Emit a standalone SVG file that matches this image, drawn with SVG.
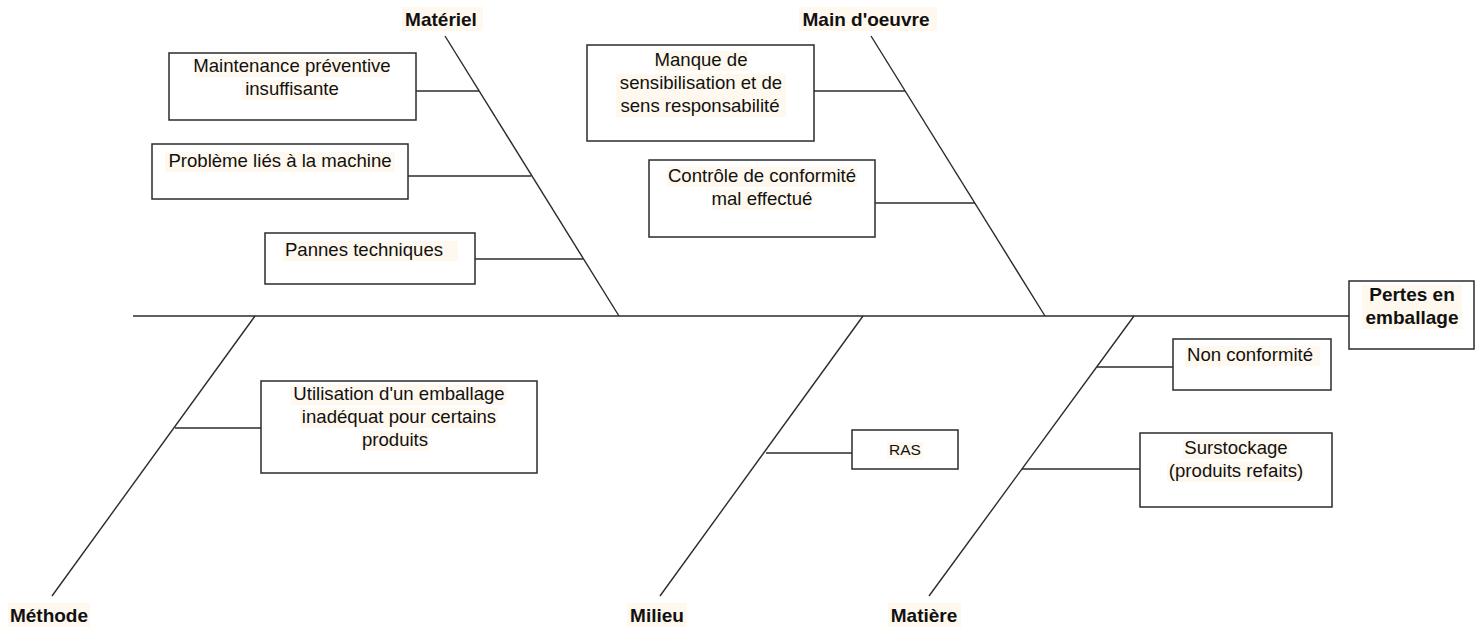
<svg xmlns="http://www.w3.org/2000/svg" width="1482" height="628" viewBox="0 0 1482 628">
  <style>
    .bg { fill: #ffffff; }
    .box { fill: #ffffff; stroke: #2b2b2b; stroke-width: 1.5; }
    .hl { fill: #fef8ee; }
    .bone { stroke: #2b2b2b; stroke-width: 1.4; fill: none; }
    .t { font-family: "Liberation Sans", Arial, sans-serif; font-size: 18.6px; fill: #111111; text-anchor: middle; }
    .cat { font-family: "Liberation Sans", Arial, sans-serif; font-size: 19px; font-weight: bold; fill: #111111; text-anchor: middle; }
    .small { font-size: 15.5px; }
  </style>
  <rect class="bg" x="0" y="0" width="1482" height="628"/>

  <!-- spine, main bones and cause branches -->
  <g id="connectors">
    <line class="bone" x1="133" y1="316" x2="1349" y2="316"/>
    <!-- upper bones -->
    <line class="bone" x1="445" y1="36" x2="619" y2="316"/>
    <line class="bone" x1="871" y1="36" x2="1045" y2="316"/>
    <!-- lower bones -->
    <line class="bone" x1="255" y1="316" x2="52" y2="596"/>
    <line class="bone" x1="863" y1="316" x2="660" y2="596"/>
    <line class="bone" x1="1134" y1="316" x2="929" y2="596"/>
    <!-- Matériel branches -->
    <line class="bone" x1="413" y1="91" x2="479" y2="91"/>
    <line class="bone" x1="408" y1="176" x2="531" y2="176"/>
    <line class="bone" x1="475" y1="259" x2="583" y2="259"/>
    <!-- Main d'oeuvre branches -->
    <line class="bone" x1="811" y1="91" x2="905" y2="91"/>
    <line class="bone" x1="867" y1="203" x2="975" y2="203"/>
    <!-- Méthode branch -->
    <line class="bone" x1="175" y1="428" x2="261" y2="428"/>
    <!-- Milieu branch -->
    <line class="bone" x1="766" y1="453" x2="852" y2="453"/>
    <!-- Matière branches -->
    <line class="bone" x1="1097" y1="367" x2="1173" y2="367"/>
    <line class="bone" x1="1022" y1="469" x2="1140" y2="469"/>
  </g>

  <!-- category labels -->
  <g id="cat-materiel">
    <rect class="hl" x="402" y="7" width="81" height="24"/>
    <text class="cat" x="441" y="26">Matériel</text>
  </g>
  <g id="cat-main-oeuvre">
    <rect class="hl" x="799" y="7" width="138" height="24"/>
    <text class="cat" x="866" y="26">Main d'oeuvre</text>
  </g>
  <g id="cat-methode">
    <rect class="hl" x="8" y="603" width="82" height="24"/>
    <text class="cat" x="49" y="622">Méthode</text>
  </g>
  <g id="cat-milieu">
    <rect class="hl" x="627" y="603" width="60" height="24"/>
    <text class="cat" x="657" y="622">Milieu</text>
  </g>
  <g id="cat-matiere">
    <rect class="hl" x="888" y="603" width="73" height="24"/>
    <text class="cat" x="924" y="622">Matière</text>
  </g>

  <!-- effect -->
  <g id="effect">
    <rect class="box" x="1349" y="281" width="125" height="68"/>
    <rect class="hl" x="1362" y="285" width="100" height="44"/>
    <text class="cat" x="1412" y="301">Pertes en</text>
    <text class="cat" x="1412" y="324">emballage</text>
  </g>

  <!-- Matériel causes -->
  <g id="cause-maintenance">
    <rect class="box" x="169" y="53" width="247" height="67"/>
    <rect class="hl" x="195" y="57" width="194" height="20"/>
    <rect class="hl" x="242" y="80" width="93" height="20"/>
    <text class="t" x="292" y="72">Maintenance préventive</text>
    <text class="t" x="292" y="95">insuffisante</text>
  </g>
  <g id="cause-machine">
    <rect class="box" x="152" y="144" width="256" height="55"/>
    <rect class="hl" x="165" y="152" width="230" height="20"/>
    <text class="t" x="280" y="167">Problème liés à la machine</text>
  </g>
  <g id="cause-pannes">
    <rect class="box" x="265" y="233" width="210" height="51"/>
    <rect class="hl" x="283" y="241" width="175" height="20"/>
    <text class="t" x="364" y="256">Pannes techniques</text>
  </g>

  <!-- Main d'oeuvre causes -->
  <g id="cause-sensibilisation">
    <rect class="box" x="587" y="45" width="227" height="96"/>
    <rect class="hl" x="655" y="51" width="93" height="20"/>
    <rect class="hl" x="616" y="74" width="170" height="43"/>
    <text class="t" x="701" y="66">Manque de</text>
    <text class="t" x="701" y="89">sensibilisation et de</text>
    <text class="t" x="700" y="112">sens responsabilité</text>
  </g>
  <g id="cause-controle">
    <rect class="box" x="649" y="160" width="226" height="77"/>
    <rect class="hl" x="667" y="167" width="190" height="20"/>
    <rect class="hl" x="712" y="190" width="101" height="20"/>
    <text class="t" x="762" y="182">Contrôle de conformité</text>
    <text class="t" x="762" y="205">mal effectué</text>
  </g>

  <!-- Méthode cause -->
  <g id="cause-emballage">
    <rect class="box" x="261" y="381" width="276" height="92"/>
    <rect class="hl" x="291" y="385" width="216" height="20"/>
    <rect class="hl" x="300" y="408" width="198" height="20"/>
    <rect class="hl" x="361" y="431" width="68" height="20"/>
    <text class="t" x="399" y="400">Utilisation d'un emballage</text>
    <text class="t" x="399" y="423">inadéquat pour certains</text>
    <text class="t" x="395" y="446">produits</text>
  </g>

  <!-- Milieu cause -->
  <g id="cause-ras">
    <rect class="box" x="852" y="430" width="106" height="39"/>
    <rect class="hl" x="887" y="442" width="36" height="17"/>
    <text class="t small" x="905" y="455">RAS</text>
  </g>

  <!-- Matière causes -->
  <g id="cause-non-conformite">
    <rect class="box" x="1173" y="339" width="158" height="51"/>
    <rect class="hl" x="1185" y="346" width="135" height="20"/>
    <text class="t" x="1250" y="361">Non conformité</text>
  </g>
  <g id="cause-surstockage">
    <rect class="box" x="1140" y="433" width="192" height="74"/>
    <rect class="hl" x="1183" y="439" width="107" height="20"/>
    <rect class="hl" x="1167" y="462" width="137" height="20"/>
    <text class="t" x="1236" y="454">Surstockage</text>
    <text class="t" x="1236" y="477">(produits refaits)</text>
  </g>
</svg>
